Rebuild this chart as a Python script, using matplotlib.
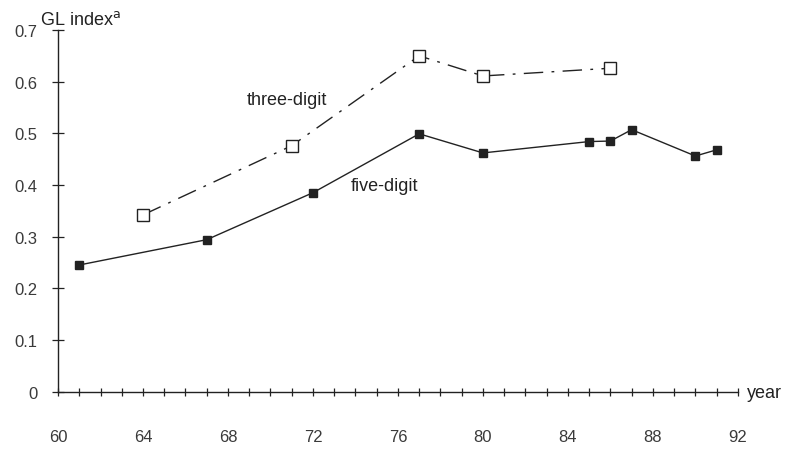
import numpy as np
import matplotlib.pyplot as plt

# five-digit series (filled squares)
five_years = [61, 67, 72, 77, 80, 85, 86, 87, 90, 91]
five_vals = [0.245, 0.294, 0.385, 0.499, 0.462, 0.484, 0.485, 0.507, 0.456, 0.468]

# three-digit series (open squares)
three_years = [64, 71, 77, 80, 86]
three_vals = [0.342, 0.476, 0.650, 0.611, 0.626]

x_labels = [60, 64, 68, 72, 76, 80, 84, 88, 92]
y_ticks = [0, 0.1, 0.2, 0.3, 0.4, 0.5, 0.6, 0.7]

plt.rcParams['font.family'] = ['Liberation Sans', 'DejaVu Sans']

fig = plt.figure(figsize=(7.85, 4.52), dpi=100)
ax = fig.add_axes([0.0739, 0.1316, 0.8661, 0.7998])

ink = '#222222'

ax.plot(five_years, five_vals, color=ink, lw=1.0, marker='s', ms=6,
        mfc=ink, mec=ink)
ax.plot(three_years, three_vals, color=ink, lw=1.0, dashes=(14, 6, 2, 6),
        marker='s', ms=8.5, mfc='white', mec=ink, mew=1.0)

ax.set_xlim(60, 92)
ax.set_ylim(0, 0.7)

for s in ['top', 'right']:
    ax.spines[s].set_visible(False)
for s in ['left', 'bottom']:
    ax.spines[s].set_color(ink)
    ax.spines[s].set_linewidth(1.0)

ax.set_xticks(np.arange(60, 93, 1))
ax.set_xticklabels([str(y) if y in x_labels else '' for y in range(60, 93)])
ax.set_yticks(y_ticks)
ax.set_yticklabels(['0', '0.1', '0.2', '0.3', '0.4', '0.5', '0.6', '0.7'])

ax.tick_params(axis='x', direction='inout', length=6, width=0.9, color=ink,
               pad=24, labelsize=12, labelcolor='#3a3a3a')
ax.tick_params(axis='y', direction='inout', length=8, width=0.9, color=ink,
               pad=11, labelsize=12, labelcolor='#3a3a3a')

fig.text(0.051, 0.955, 'GL index$^{\\mathrm{a}}$', fontsize=13, color=ink,
         ha='left', va='center')
fig.text(0.952, 0.13, 'year', fontsize=13, color=ink, ha='left', va='center')

ax.text(68.9, 0.565, 'three-digit', fontsize=13, color=ink, ha='left', va='center')
ax.text(73.8, 0.398, 'five-digit', fontsize=13, color=ink, ha='left', va='center')

fig.savefig('out.png', dpi=100)
